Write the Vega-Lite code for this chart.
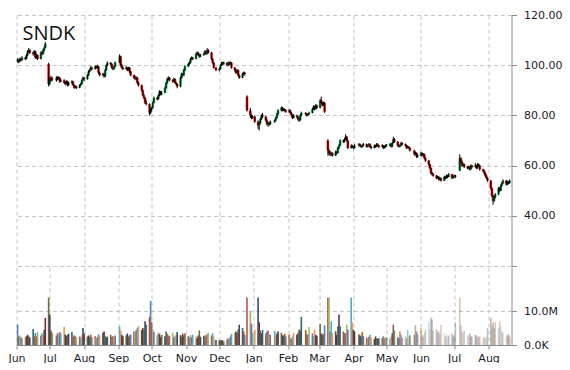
{
"$schema":"https://vega.github.io/schema/vega-lite/v6.json",
"padding":{"left":7.5,"top":9,"right":0,"bottom":0},
"spacing":0,
"config":{"view":{"stroke":null},"axis":{"gridColor":"#C4C4C4","gridDash":[4,3],"labelFont":"DejaVu Sans","labelFontSize":11,"labelColor":"#1a1a2a","domainColor":"#8a8a8a","tickColor":"#8a8a8a","title":null}},
"data":{"values":[
{"d":"2014-06-02","o":101.5,"h":102.8,"l":101,"c":102,"v":6},
{"d":"2014-06-03","o":102,"h":102.5,"l":100.8,"c":101.5,"v":2.5},
{"d":"2014-06-04","o":101.5,"h":103,"l":101.2,"c":102.5,"v":2.8},
{"d":"2014-06-05","o":102.5,"h":103,"l":101.5,"c":102,"v":2.2},
{"d":"2014-06-06","o":102,"h":103.6,"l":101.8,"c":103,"v":2},
{"d":"2014-06-09","o":103,"h":103.4,"l":102,"c":102.5,"v":2.4},
{"d":"2014-06-10","o":102.5,"h":104.5,"l":102.3,"c":104,"v":2.6},
{"d":"2014-06-11","o":104,"h":106,"l":103.6,"c":105.5,"v":3},
{"d":"2014-06-12","o":105.5,"h":106.8,"l":105,"c":106,"v":2.7},
{"d":"2014-06-13","o":106,"h":106.3,"l":104.5,"c":105,"v":2.2},
{"d":"2014-06-16","o":105,"h":105.5,"l":103.8,"c":104.5,"v":4.7},
{"d":"2014-06-17","o":104.5,"h":106,"l":104,"c":105.5,"v":2.5},
{"d":"2014-06-18","o":105.5,"h":105.8,"l":102.5,"c":103,"v":3.5},
{"d":"2014-06-19","o":103,"h":104.5,"l":102.6,"c":104,"v":2.6},
{"d":"2014-06-20","o":104,"h":104.3,"l":102,"c":102.5,"v":3.8},
{"d":"2014-06-23","o":102.5,"h":105.5,"l":102.3,"c":105,"v":2.8},
{"d":"2014-06-24","o":105,"h":105.6,"l":104,"c":104.5,"v":3.5},
{"d":"2014-06-25","o":104.5,"h":106.5,"l":104.2,"c":106,"v":3},
{"d":"2014-06-26","o":106,"h":107.5,"l":105.6,"c":107,"v":4.5},
{"d":"2014-06-27","o":107,"h":109.3,"l":106.8,"c":108.5,"v":8},
{"d":"2014-06-30","o":100.5,"h":101,"l":91.5,"c":92.5,"v":14},
{"d":"2014-07-01","o":92.5,"h":95,"l":92,"c":94,"v":9},
{"d":"2014-07-02","o":94,"h":95.8,"l":93.6,"c":95,"v":4.3},
{"d":"2014-07-03","o":95,"h":95.4,"l":93.5,"c":94,"v":3.6},
{"d":"2014-07-07","o":94,"h":95.6,"l":93.4,"c":95,"v":2.8},
{"d":"2014-07-08","o":95,"h":95.5,"l":94,"c":94.5,"v":3.5},
{"d":"2014-07-09","o":94.5,"h":95.6,"l":94.2,"c":95,"v":3},
{"d":"2014-07-10","o":95,"h":95.3,"l":93,"c":93.5,"v":3.8},
{"d":"2014-07-11","o":93.5,"h":94.5,"l":93.2,"c":94,"v":3.4},
{"d":"2014-07-14","o":94,"h":94.4,"l":92.6,"c":93,"v":5.3},
{"d":"2014-07-15","o":93,"h":93.6,"l":92,"c":92.5,"v":3.1},
{"d":"2014-07-16","o":92.5,"h":94,"l":92.3,"c":93.5,"v":2.6},
{"d":"2014-07-17","o":93.5,"h":93.8,"l":91.6,"c":92,"v":3},
{"d":"2014-07-18","o":92,"h":93.4,"l":91.8,"c":93,"v":3.3},
{"d":"2014-07-21","o":93,"h":94,"l":92.6,"c":93.5,"v":3.8},
{"d":"2014-07-22","o":93.5,"h":93.8,"l":91.8,"c":92,"v":2.4},
{"d":"2014-07-23","o":92,"h":92.4,"l":90.6,"c":91,"v":2.9},
{"d":"2014-07-24","o":91,"h":92,"l":90.8,"c":91.5,"v":2.6},
{"d":"2014-07-25","o":91.5,"h":91.8,"l":90.5,"c":91,"v":2.2},
{"d":"2014-07-28","o":91,"h":92.4,"l":90.8,"c":92,"v":2.5},
{"d":"2014-07-29","o":92,"h":93,"l":91.6,"c":92.5,"v":2.1},
{"d":"2014-07-30","o":92.5,"h":94.4,"l":92.2,"c":94,"v":2.9},
{"d":"2014-07-31","o":94,"h":95.5,"l":93.6,"c":95,"v":5},
{"d":"2014-08-01","o":95,"h":95.3,"l":93.8,"c":94.5,"v":3.4},
{"d":"2014-08-04","o":94.5,"h":96.4,"l":94.2,"c":96,"v":2.5},
{"d":"2014-08-05","o":96,"h":98,"l":95.7,"c":97.5,"v":2.8},
{"d":"2014-08-06","o":97.5,"h":98.6,"l":97,"c":98,"v":2.3},
{"d":"2014-08-07","o":98,"h":99.6,"l":97.8,"c":99,"v":3},
{"d":"2014-08-08","o":99,"h":99.4,"l":98,"c":98.5,"v":2.2},
{"d":"2014-08-11","o":98.5,"h":100,"l":98.2,"c":99.5,"v":2.6},
{"d":"2014-08-12","o":99.5,"h":99.8,"l":98.6,"c":99,"v":2},
{"d":"2014-08-13","o":99,"h":100.2,"l":98.8,"c":99.5,"v":2.4},
{"d":"2014-08-14","o":99.5,"h":99.7,"l":96.6,"c":97,"v":3.2},
{"d":"2014-08-15","o":97,"h":97.4,"l":95.6,"c":96,"v":2.8},
{"d":"2014-08-18","o":96,"h":97,"l":95.8,"c":96.5,"v":3.6},
{"d":"2014-08-19","o":96.5,"h":96.8,"l":95,"c":95.5,"v":4},
{"d":"2014-08-20","o":95.5,"h":98.5,"l":95.3,"c":98,"v":2.7},
{"d":"2014-08-21","o":98,"h":100.4,"l":97.8,"c":100,"v":2.2},
{"d":"2014-08-22","o":100,"h":101.5,"l":99.6,"c":101,"v":2.5},
{"d":"2014-08-25","o":101,"h":101.3,"l":100,"c":100.5,"v":3},
{"d":"2014-08-26","o":100.5,"h":100.8,"l":98.6,"c":99,"v":2.4},
{"d":"2014-08-27","o":99,"h":99.4,"l":98,"c":98.5,"v":2.6},
{"d":"2014-08-28","o":98.5,"h":100,"l":98.2,"c":99.5,"v":2.3},
{"d":"2014-08-29","o":99.5,"h":101.5,"l":99.2,"c":101,"v":2.8},
{"d":"2014-09-02","o":101,"h":104.3,"l":100.8,"c":103.5,"v":5.5},
{"d":"2014-09-03","o":103.5,"h":103.8,"l":99.5,"c":100,"v":4.3},
{"d":"2014-09-04","o":100,"h":100.6,"l":98.6,"c":99,"v":3},
{"d":"2014-09-05","o":99,"h":99.5,"l":98,"c":98.5,"v":2.6},
{"d":"2014-09-08","o":98.5,"h":99.6,"l":98.2,"c":99,"v":2.8},
{"d":"2014-09-09","o":99,"h":99.3,"l":97.6,"c":98,"v":3.4},
{"d":"2014-09-10","o":98,"h":99.4,"l":97.8,"c":99,"v":2.5},
{"d":"2014-09-11","o":99,"h":99.2,"l":97,"c":97.5,"v":2.8},
{"d":"2014-09-12","o":97.5,"h":97.8,"l":95.6,"c":96,"v":3.1},
{"d":"2014-09-15","o":96,"h":96.3,"l":94.6,"c":95,"v":4},
{"d":"2014-09-16","o":95,"h":95.8,"l":94,"c":94.5,"v":3.6},
{"d":"2014-09-17","o":94.5,"h":95.6,"l":94.2,"c":95,"v":4.4},
{"d":"2014-09-18","o":95,"h":95.3,"l":92.6,"c":93,"v":5},
{"d":"2014-09-19","o":93,"h":93.4,"l":91.5,"c":92,"v":5.6},
{"d":"2014-09-22","o":92,"h":92.3,"l":89.5,"c":90,"v":4.4},
{"d":"2014-09-23","o":90,"h":90.4,"l":87.6,"c":88,"v":5},
{"d":"2014-09-24","o":88,"h":88.5,"l":86.5,"c":87,"v":4.6},
{"d":"2014-09-25","o":87,"h":87.3,"l":84.5,"c":85,"v":7},
{"d":"2014-09-26","o":85,"h":86,"l":84,"c":84.5,"v":6},
{"d":"2014-09-29","o":84.5,"h":84.8,"l":80,"c":81,"v":8.3},
{"d":"2014-09-30","o":81,"h":83,"l":80.5,"c":82.5,"v":13},
{"d":"2014-10-01","o":82.5,"h":83.5,"l":81.5,"c":83,"v":6.7},
{"d":"2014-10-02","o":83,"h":85.5,"l":82.6,"c":85,"v":4.7},
{"d":"2014-10-03","o":85,"h":87.5,"l":84.8,"c":87,"v":3.8},
{"d":"2014-10-06","o":87,"h":87.4,"l":86,"c":86.5,"v":3},
{"d":"2014-10-07","o":86.5,"h":88.4,"l":86.2,"c":88,"v":3.6},
{"d":"2014-10-08","o":88,"h":90,"l":87.6,"c":89.5,"v":3.3},
{"d":"2014-10-09","o":89.5,"h":89.8,"l":88,"c":88.5,"v":2.4},
{"d":"2014-10-10","o":88.5,"h":89.6,"l":88,"c":89,"v":3},
{"d":"2014-10-13","o":89,"h":91.5,"l":88.8,"c":91,"v":2.6},
{"d":"2014-10-14","o":91,"h":93.4,"l":90.6,"c":93,"v":4},
{"d":"2014-10-15","o":93,"h":95,"l":92.6,"c":94.5,"v":3.3},
{"d":"2014-10-16","o":94.5,"h":95.6,"l":94,"c":95,"v":2.8},
{"d":"2014-10-17","o":95,"h":95.3,"l":93.6,"c":94,"v":2.7},
{"d":"2014-10-20","o":94,"h":94.3,"l":93,"c":93.5,"v":3.6},
{"d":"2014-10-21","o":93.5,"h":95,"l":93.2,"c":94.5,"v":2.3},
{"d":"2014-10-22","o":94.5,"h":94.8,"l":92.6,"c":93,"v":2.6},
{"d":"2014-10-23","o":93,"h":93.4,"l":92,"c":92.5,"v":3},
{"d":"2014-10-24","o":92.5,"h":92.8,"l":90.8,"c":91.5,"v":3.8},
{"d":"2014-10-27","o":91.5,"h":95.5,"l":91.2,"c":95,"v":2.9},
{"d":"2014-10-28","o":95,"h":97,"l":94.6,"c":96.5,"v":2.4},
{"d":"2014-10-29","o":96.5,"h":96.8,"l":95.5,"c":96,"v":3.3},
{"d":"2014-10-30","o":96,"h":98.5,"l":95.8,"c":98,"v":2.6},
{"d":"2014-10-31","o":98,"h":100,"l":97.6,"c":99.5,"v":3.5},
{"d":"2014-11-03","o":99.5,"h":101,"l":99.2,"c":100.5,"v":2.6},
{"d":"2014-11-04","o":100.5,"h":101.5,"l":100,"c":101,"v":2.2},
{"d":"2014-11-05","o":101,"h":103,"l":100.7,"c":102.5,"v":2.9},
{"d":"2014-11-06","o":102.5,"h":103.5,"l":102,"c":103,"v":2.3},
{"d":"2014-11-07","o":103,"h":103.3,"l":102,"c":102.5,"v":3},
{"d":"2014-11-10","o":102.5,"h":105,"l":102.3,"c":104.5,"v":2.5},
{"d":"2014-11-11","o":104.5,"h":105.5,"l":104,"c":105,"v":2},
{"d":"2014-11-12","o":105,"h":105.3,"l":103.6,"c":104,"v":2.8},
{"d":"2014-11-13","o":104,"h":104.4,"l":103,"c":103.5,"v":4.3},
{"d":"2014-11-14","o":103.5,"h":104.5,"l":103.2,"c":104,"v":2.4},
{"d":"2014-11-17","o":104,"h":105,"l":103.8,"c":104.5,"v":2.6},
{"d":"2014-11-18","o":104.5,"h":106,"l":104.2,"c":105.5,"v":2.9},
{"d":"2014-11-19","o":105.5,"h":105.8,"l":104,"c":104.5,"v":2.5},
{"d":"2014-11-20","o":104.5,"h":106.8,"l":104.3,"c":106,"v":3.2},
{"d":"2014-11-21","o":106,"h":106.4,"l":104.6,"c":105,"v":3.6},
{"d":"2014-11-24","o":105,"h":105.3,"l":102,"c":102.5,"v":2.8},
{"d":"2014-11-25","o":102.5,"h":102.8,"l":100.6,"c":101,"v":3.4},
{"d":"2014-11-26","o":101,"h":101.3,"l":98.6,"c":99,"v":2.4},
{"d":"2014-11-28","o":99,"h":99.3,"l":97.6,"c":98,"v":1.5},
{"d":"2014-12-01","o":98,"h":99,"l":97.5,"c":98.5,"v":1.4},
{"d":"2014-12-02","o":98.5,"h":100.4,"l":98.2,"c":100,"v":1.2},
{"d":"2014-12-03","o":100,"h":101.4,"l":99.7,"c":101,"v":1.5},
{"d":"2014-12-04","o":101,"h":101.3,"l":100,"c":100.5,"v":1.3},
{"d":"2014-12-05","o":100.5,"h":101.5,"l":100.2,"c":101,"v":1.1},
{"d":"2014-12-08","o":101,"h":101.2,"l":99.6,"c":100,"v":1.6},
{"d":"2014-12-09","o":100,"h":101.4,"l":99.6,"c":101,"v":2},
{"d":"2014-12-10","o":101,"h":101.4,"l":100,"c":100.5,"v":1.8},
{"d":"2014-12-11","o":100.5,"h":101.5,"l":100.2,"c":101,"v":2.5},
{"d":"2014-12-12","o":101,"h":101.2,"l":98.6,"c":99,"v":3.3},
{"d":"2014-12-15","o":99,"h":99.3,"l":97.5,"c":98,"v":3.6},
{"d":"2014-12-16","o":98,"h":98.6,"l":96.5,"c":97,"v":4},
{"d":"2014-12-17","o":97,"h":98.4,"l":96.8,"c":98,"v":3.5},
{"d":"2014-12-18","o":98,"h":98.3,"l":95.6,"c":96,"v":4.6},
{"d":"2014-12-19","o":96,"h":96.3,"l":94.6,"c":95,"v":6},
{"d":"2014-12-22","o":95,"h":97,"l":94.8,"c":96.5,"v":5},
{"d":"2014-12-23","o":96.5,"h":97.5,"l":96,"c":97,"v":4},
{"d":"2014-12-24","o":97,"h":97.3,"l":95.8,"c":96.5,"v":3},
{"d":"2014-12-26","o":87.5,"h":88,"l":81.5,"c":82,"v":14},
{"d":"2014-12-29","o":82,"h":83,"l":79,"c":80,"v":10},
{"d":"2014-12-30","o":80,"h":80.5,"l":78.5,"c":79,"v":6.3},
{"d":"2014-12-31","o":79,"h":80,"l":78.6,"c":79.5,"v":3.5},
{"d":"2015-01-02","o":79.5,"h":80,"l":77,"c":77.5,"v":4.5},
{"d":"2015-01-05","o":77.5,"h":78,"l":74.5,"c":76,"v":14},
{"d":"2015-01-06","o":76,"h":77.5,"l":74,"c":77,"v":6.7},
{"d":"2015-01-07","o":77,"h":79,"l":76.6,"c":78.5,"v":4.2},
{"d":"2015-01-08","o":78.5,"h":80.5,"l":78.2,"c":80,"v":3.5},
{"d":"2015-01-09","o":80,"h":81,"l":79,"c":79.5,"v":4.4},
{"d":"2015-01-12","o":79.5,"h":79.8,"l":77.6,"c":78,"v":3.4},
{"d":"2015-01-13","o":78,"h":78.5,"l":76,"c":76.5,"v":4},
{"d":"2015-01-14","o":76.5,"h":77.5,"l":75.5,"c":77,"v":4.3},
{"d":"2015-01-15","o":77,"h":77.4,"l":75.8,"c":76.5,"v":3.1},
{"d":"2015-01-16","o":76.5,"h":78,"l":76.2,"c":77.5,"v":3},
{"d":"2015-01-20","o":77.5,"h":78.4,"l":77,"c":78,"v":4.1},
{"d":"2015-01-21","o":78,"h":79.5,"l":77.6,"c":79,"v":2.8},
{"d":"2015-01-22","o":79,"h":81,"l":78.7,"c":80.5,"v":3.4},
{"d":"2015-01-23","o":80.5,"h":82.5,"l":80.2,"c":82,"v":4},
{"d":"2015-01-26","o":82,"h":83.6,"l":81.6,"c":83,"v":3.6},
{"d":"2015-01-27","o":83,"h":83.3,"l":81.6,"c":82,"v":2.9},
{"d":"2015-01-28","o":82,"h":83,"l":81.7,"c":82.5,"v":2.7},
{"d":"2015-01-29","o":82.5,"h":82.8,"l":81.5,"c":82,"v":3.3},
{"d":"2015-01-30","o":82,"h":82.3,"l":81,"c":81.5,"v":2.5},
{"d":"2015-02-02","o":81.5,"h":82.5,"l":81,"c":82,"v":3},
{"d":"2015-02-03","o":82,"h":82.3,"l":80.6,"c":81,"v":2.2},
{"d":"2015-02-04","o":81,"h":81.4,"l":79.6,"c":80,"v":1.8},
{"d":"2015-02-05","o":80,"h":80.4,"l":78.5,"c":79,"v":2.5},
{"d":"2015-02-06","o":79,"h":80.5,"l":78.8,"c":80,"v":3.6},
{"d":"2015-02-09","o":80,"h":80.3,"l":79,"c":79.5,"v":3},
{"d":"2015-02-10","o":79.5,"h":79.8,"l":78,"c":78.5,"v":3.5},
{"d":"2015-02-11","o":78.5,"h":79,"l":77.4,"c":78,"v":4.6},
{"d":"2015-02-12","o":78,"h":80.5,"l":77.8,"c":80,"v":4.2},
{"d":"2015-02-13","o":80,"h":81.5,"l":79.6,"c":81,"v":8.3},
{"d":"2015-02-17","o":81,"h":81.3,"l":80,"c":80.5,"v":4.4},
{"d":"2015-02-18","o":80.5,"h":80.8,"l":79.5,"c":80,"v":3.2},
{"d":"2015-02-19","o":80,"h":81,"l":79.8,"c":80.5,"v":3},
{"d":"2015-02-20","o":80.5,"h":81.5,"l":80.2,"c":81,"v":5.3},
{"d":"2015-02-23","o":81,"h":83,"l":80.8,"c":82.5,"v":3.4},
{"d":"2015-02-24","o":82.5,"h":84,"l":82.2,"c":83.5,"v":2.6},
{"d":"2015-02-25","o":83.5,"h":83.8,"l":82,"c":82.5,"v":4.5},
{"d":"2015-02-26","o":82.5,"h":84.5,"l":82.3,"c":84,"v":3},
{"d":"2015-02-27","o":84,"h":84.3,"l":82.6,"c":83,"v":2.7},
{"d":"2015-03-02","o":83,"h":86.5,"l":82.8,"c":86,"v":6.2},
{"d":"2015-03-03","o":86,"h":87.5,"l":84.6,"c":85,"v":3.4},
{"d":"2015-03-04","o":85,"h":85.4,"l":83.6,"c":84,"v":3},
{"d":"2015-03-05","o":84,"h":85.5,"l":83.8,"c":85,"v":3.3},
{"d":"2015-03-06","o":85,"h":85.3,"l":81,"c":81.5,"v":5.8},
{"d":"2015-03-09","o":70,"h":70.5,"l":64,"c":66,"v":14},
{"d":"2015-03-10","o":66,"h":66.5,"l":64,"c":65,"v":14},
{"d":"2015-03-11","o":65,"h":65.8,"l":63.8,"c":64.5,"v":4},
{"d":"2015-03-12","o":64.5,"h":65.5,"l":64,"c":65,"v":7},
{"d":"2015-03-13","o":65,"h":65.3,"l":63.5,"c":64,"v":3.5},
{"d":"2015-03-16","o":64,"h":66,"l":63.8,"c":65.5,"v":4},
{"d":"2015-03-17","o":65.5,"h":65.8,"l":64.5,"c":65,"v":3},
{"d":"2015-03-18","o":65,"h":67.5,"l":64.8,"c":67,"v":5.5},
{"d":"2015-03-19","o":67,"h":68.5,"l":66.6,"c":68,"v":9},
{"d":"2015-03-20","o":68,"h":70.5,"l":67.8,"c":70,"v":5.5},
{"d":"2015-03-23","o":70,"h":70.4,"l":69,"c":69.5,"v":4},
{"d":"2015-03-24","o":69.5,"h":71,"l":69.2,"c":70.5,"v":3.5},
{"d":"2015-03-25","o":70.5,"h":72.5,"l":70.2,"c":71.5,"v":3.5},
{"d":"2015-03-26","o":71.5,"h":71.8,"l":69.6,"c":70,"v":6},
{"d":"2015-03-27","o":70,"h":70.3,"l":66.6,"c":67,"v":4.5},
{"d":"2015-03-30","o":67,"h":68.5,"l":66.8,"c":68,"v":14},
{"d":"2015-03-31","o":68,"h":68.3,"l":67,"c":67.5,"v":6.7},
{"d":"2015-04-01","o":67.5,"h":67.8,"l":66.5,"c":67,"v":4.5},
{"d":"2015-04-02","o":67,"h":68.5,"l":66.8,"c":68,"v":4},
{"d":"2015-04-06","o":68,"h":69,"l":67.6,"c":68.5,"v":3.2},
{"d":"2015-04-07","o":68.5,"h":68.8,"l":67.5,"c":68,"v":2.8},
{"d":"2015-04-08","o":68,"h":68.3,"l":67,"c":67.5,"v":2.5},
{"d":"2015-04-09","o":67.5,"h":68.4,"l":67.2,"c":68,"v":3.8},
{"d":"2015-04-10","o":68,"h":69,"l":67.7,"c":68.5,"v":2.6},
{"d":"2015-04-13","o":68.5,"h":68.8,"l":67.2,"c":67.5,"v":2.2},
{"d":"2015-04-14","o":67.5,"h":68.4,"l":67.2,"c":68,"v":2},
{"d":"2015-04-15","o":68,"h":69,"l":67.8,"c":68.5,"v":2.4},
{"d":"2015-04-16","o":68.5,"h":68.8,"l":67,"c":67.5,"v":3},
{"d":"2015-04-17","o":67.5,"h":67.8,"l":66.5,"c":67,"v":2.2},
{"d":"2015-04-20","o":67,"h":68.4,"l":66.8,"c":68,"v":1.8},
{"d":"2015-04-21","o":68,"h":68.3,"l":67.2,"c":67.5,"v":2.5},
{"d":"2015-04-22","o":67.5,"h":69,"l":67.3,"c":68.5,"v":2},
{"d":"2015-04-23","o":68.5,"h":68.8,"l":67.6,"c":68,"v":1.9},
{"d":"2015-04-24","o":68,"h":68.3,"l":67,"c":67.5,"v":2},
{"d":"2015-04-27","o":67.5,"h":68.5,"l":67.3,"c":68,"v":2.1},
{"d":"2015-04-28","o":68,"h":68.2,"l":66.6,"c":67,"v":2.6},
{"d":"2015-04-29","o":67,"h":68,"l":66.8,"c":67.5,"v":2},
{"d":"2015-04-30","o":67.5,"h":68.4,"l":67.2,"c":68,"v":2.2},
{"d":"2015-05-01","o":68,"h":68.6,"l":67.5,"c":68,"v":2.2},
{"d":"2015-05-04","o":68,"h":69,"l":67.8,"c":68.5,"v":2},
{"d":"2015-05-05","o":68.5,"h":68.8,"l":67.2,"c":67.5,"v":2.6},
{"d":"2015-05-06","o":67.5,"h":69.5,"l":67.3,"c":69,"v":3.5},
{"d":"2015-05-07","o":69,"h":71.5,"l":68.8,"c":70.5,"v":6},
{"d":"2015-05-08","o":70.5,"h":71,"l":69.2,"c":69.5,"v":4.3},
{"d":"2015-05-11","o":69.5,"h":69.8,"l":67.6,"c":68,"v":2.3},
{"d":"2015-05-12","o":68,"h":68.3,"l":67.2,"c":67.5,"v":2},
{"d":"2015-05-13","o":67.5,"h":68.5,"l":67.3,"c":68,"v":4},
{"d":"2015-05-14","o":68,"h":69.5,"l":67.8,"c":69,"v":3},
{"d":"2015-05-15","o":69,"h":69.3,"l":68,"c":68.5,"v":2.2},
{"d":"2015-05-18","o":68.5,"h":68.8,"l":67.6,"c":68,"v":2.6},
{"d":"2015-05-19","o":68,"h":68.2,"l":66.6,"c":67,"v":2},
{"d":"2015-05-20","o":67,"h":68,"l":66.8,"c":67.5,"v":4.5},
{"d":"2015-05-21","o":67.5,"h":67.8,"l":66.6,"c":67,"v":2.4},
{"d":"2015-05-22","o":67,"h":67.3,"l":65.6,"c":66,"v":2.9},
{"d":"2015-05-26","o":66,"h":66.3,"l":64,"c":64.5,"v":3},
{"d":"2015-05-27","o":64.5,"h":65.5,"l":64.2,"c":65,"v":5.8},
{"d":"2015-05-28","o":65,"h":65.3,"l":63,"c":63.5,"v":4},
{"d":"2015-05-29","o":63.5,"h":64.5,"l":63.2,"c":64,"v":3.2},
{"d":"2015-06-01","o":64,"h":65.5,"l":63.8,"c":65,"v":5.1},
{"d":"2015-06-02","o":65,"h":65.3,"l":63.6,"c":64,"v":3},
{"d":"2015-06-03","o":64,"h":65,"l":63.8,"c":64.5,"v":2.5},
{"d":"2015-06-04","o":64.5,"h":64.8,"l":62.6,"c":63,"v":3.6},
{"d":"2015-06-05","o":63,"h":63.3,"l":61.5,"c":62,"v":4.5},
{"d":"2015-06-08","o":62,"h":62.3,"l":60,"c":60.5,"v":6.7},
{"d":"2015-06-09","o":60.5,"h":60.8,"l":58.5,"c":59,"v":4.8},
{"d":"2015-06-10","o":59,"h":59.3,"l":56.5,"c":57,"v":8.1},
{"d":"2015-06-11","o":57,"h":57.5,"l":56,"c":56.5,"v":7.5},
{"d":"2015-06-12","o":56.5,"h":57,"l":55.6,"c":56,"v":4.2},
{"d":"2015-06-15","o":56,"h":56.2,"l":54.6,"c":55,"v":4.6},
{"d":"2015-06-16","o":55,"h":56,"l":54.8,"c":55.5,"v":3.8},
{"d":"2015-06-17","o":55.5,"h":55.8,"l":54,"c":54.5,"v":4},
{"d":"2015-06-18","o":54.5,"h":55.5,"l":54.2,"c":55,"v":3.2},
{"d":"2015-06-19","o":55,"h":55.3,"l":53.6,"c":54,"v":6},
{"d":"2015-06-22","o":54,"h":56,"l":53.8,"c":55.5,"v":3.5},
{"d":"2015-06-23","o":55.5,"h":55.8,"l":54.6,"c":55,"v":2.6},
{"d":"2015-06-24","o":55,"h":56.5,"l":54.8,"c":56,"v":3},
{"d":"2015-06-25","o":56,"h":56.3,"l":55,"c":55.5,"v":2.4},
{"d":"2015-06-26","o":55.5,"h":57,"l":55.3,"c":56.5,"v":2.8},
{"d":"2015-06-29","o":56.5,"h":56.8,"l":54.6,"c":55,"v":3.3},
{"d":"2015-06-30","o":55,"h":56,"l":54.8,"c":55.5,"v":2.5},
{"d":"2015-07-01","o":55.5,"h":56.5,"l":55.2,"c":56,"v":3},
{"d":"2015-07-02","o":56,"h":56.3,"l":55,"c":55.5,"v":6.7},
{"d":"2015-07-06","o":58,"h":64.5,"l":57.8,"c":63,"v":14},
{"d":"2015-07-07","o":63,"h":63.3,"l":61,"c":61.5,"v":6},
{"d":"2015-07-08","o":61.5,"h":62,"l":59.6,"c":60,"v":4},
{"d":"2015-07-09","o":60,"h":61,"l":59.7,"c":60.5,"v":3.5},
{"d":"2015-07-10","o":60.5,"h":60.8,"l":59,"c":59.5,"v":4.3},
{"d":"2015-07-13","o":59.5,"h":59.8,"l":58.5,"c":59,"v":3},
{"d":"2015-07-14","o":59,"h":60,"l":58.7,"c":59.5,"v":2.8},
{"d":"2015-07-15","o":59.5,"h":59.8,"l":58,"c":58.5,"v":3.5},
{"d":"2015-07-16","o":58.5,"h":60.5,"l":58.3,"c":60,"v":2.6},
{"d":"2015-07-17","o":60,"h":60.3,"l":59,"c":59.5,"v":2.4},
{"d":"2015-07-20","o":59.5,"h":61,"l":59.2,"c":60,"v":3},
{"d":"2015-07-21","o":60,"h":60.3,"l":58.6,"c":59,"v":2.8},
{"d":"2015-07-22","o":59,"h":61,"l":58.8,"c":60.5,"v":2.5},
{"d":"2015-07-23","o":60.5,"h":60.8,"l":59.6,"c":60,"v":2.3},
{"d":"2015-07-24","o":60,"h":60.3,"l":58,"c":58.5,"v":2.6},
{"d":"2015-07-27","o":58.5,"h":58.8,"l":57.5,"c":58,"v":2.4},
{"d":"2015-07-28","o":58,"h":58.3,"l":56.6,"c":57,"v":2.2},
{"d":"2015-07-29","o":57,"h":57.3,"l":55.5,"c":56,"v":2},
{"d":"2015-07-30","o":56,"h":56.3,"l":54.6,"c":55,"v":2.4},
{"d":"2015-07-31","o":55,"h":55.3,"l":53.5,"c":54,"v":5},
{"d":"2015-08-03","o":54,"h":54.3,"l":50.5,"c":51,"v":8},
{"d":"2015-08-04","o":51,"h":51.3,"l":47.5,"c":48,"v":5.5},
{"d":"2015-08-05","o":48,"h":48.5,"l":44.4,"c":46,"v":6.7},
{"d":"2015-08-06","o":46,"h":48,"l":45.5,"c":47.5,"v":5},
{"d":"2015-08-07","o":47.5,"h":49,"l":47,"c":48.5,"v":6.7},
{"d":"2015-08-10","o":48.5,"h":51.5,"l":48.2,"c":51,"v":5},
{"d":"2015-08-11","o":51,"h":51.3,"l":49.6,"c":50,"v":7},
{"d":"2015-08-12","o":50,"h":52.5,"l":49.8,"c":52,"v":5.5},
{"d":"2015-08-13","o":52,"h":53.5,"l":51.7,"c":53,"v":4},
{"d":"2015-08-14","o":53,"h":54.5,"l":52.7,"c":54,"v":3.5},
{"d":"2015-08-17","o":54,"h":54.3,"l":52,"c":52.5,"v":3},
{"d":"2015-08-18","o":52.5,"h":54,"l":52.3,"c":53.5,"v":2.8},
{"d":"2015-08-19","o":53.5,"h":53.8,"l":52.6,"c":53,"v":3.3},
{"d":"2015-08-20","o":53,"h":54.5,"l":52.8,"c":54,"v":2.5}
]},
"vconcat":[
{"width":495,"height":251,
 "title":{"text":"SNDK","anchor":"start","orient":"top","frame":"group","offset":-35,"dx":6,"font":"Open Sans","fontSize":20,"fontWeight":"normal","color":"#111111"},
 "layer":[
  {"mark":{"type":"bar","size":2.5},
   "encoding":{
    "x":{"field":"d","type":"temporal","scale":{"type":"utc","domain":[1401580800000,1440172800000],"nice":false,"padding":0},
         "axis":{"values":[1401580800000,1404172800000,1406851200000,1409529600000,1412121600000,1414800000000,1417392000000,1420070400000,1422748800000,1425168000000,1427846400000,1430438400000,1433116800000,1435708800000,1438387200000],"grid":true,"labels":false,"ticks":false,"domain":false}},
    "y":{"field":"o","type":"quantitative","scale":{"domain":[20,120],"nice":false,"zero":false},
         "axis":{"orient":"right","values":[20,40,60,80,100,120],"format":".2f","labelExpr":"datum.value == 20 ? '' : datum.label","grid":true,"tickSize":5,"labelPadding":7}},
    "y2":{"field":"c"},
    "color":{"condition":{"test":"datum.c >= datum.o","value":"#00B050"},"value":"#FF0000"}
   }},
  {"mark":{"type":"rule","color":"#000000","strokeWidth":1},
   "encoding":{
    "x":{"field":"d","type":"temporal"},
    "y":{"field":"l","type":"quantitative"},
    "y2":{"field":"h"}
   }}
 ]},
{"width":495,"height":78,
 "mark":{"type":"bar","size":1.6},
 "encoding":{
  "x":{"field":"d","type":"temporal","scale":{"type":"utc","domain":[1401580800000,1440172800000],"nice":false,"padding":0},
       "axis":{"values":[1401580800000,1404172800000,1406851200000,1409529600000,1412121600000,1414800000000,1417392000000,1420070400000,1422748800000,1425168000000,1427846400000,1430438400000,1433116800000,1435708800000,1438387200000],"format":"%b","grid":true,"tickSize":4,"labelPadding":3,"labelFlush":false,"labelOverlap":false}},
  "y":{"field":"v","type":"quantitative","scale":{"domain":[0,23],"nice":false},
       "axis":{"orient":"right","values":[0,10],"labelExpr":"datum.value == 0 ? '0.0K' : format(datum.value, '.1f') + 'M'","grid":true,"tickSize":5,"labelPadding":7}},
  "color":{"field":"d","type":"nominal","legend":null,"scale":{"range":["#4F81BD","#C0504D","#9BBB59","#8064A2","#4BACC6","#F79646","#2C4D75","#772C2A","#5F7530","#4D3B62","#276A7C","#B65708"]}},
  "opacity":{"field":"d","type":"temporal","legend":null,"scale":{"type":"utc","domain":[1429488000000,1433894400000],"range":[1,0.35],"clamp":true}}
 }}
]
}
